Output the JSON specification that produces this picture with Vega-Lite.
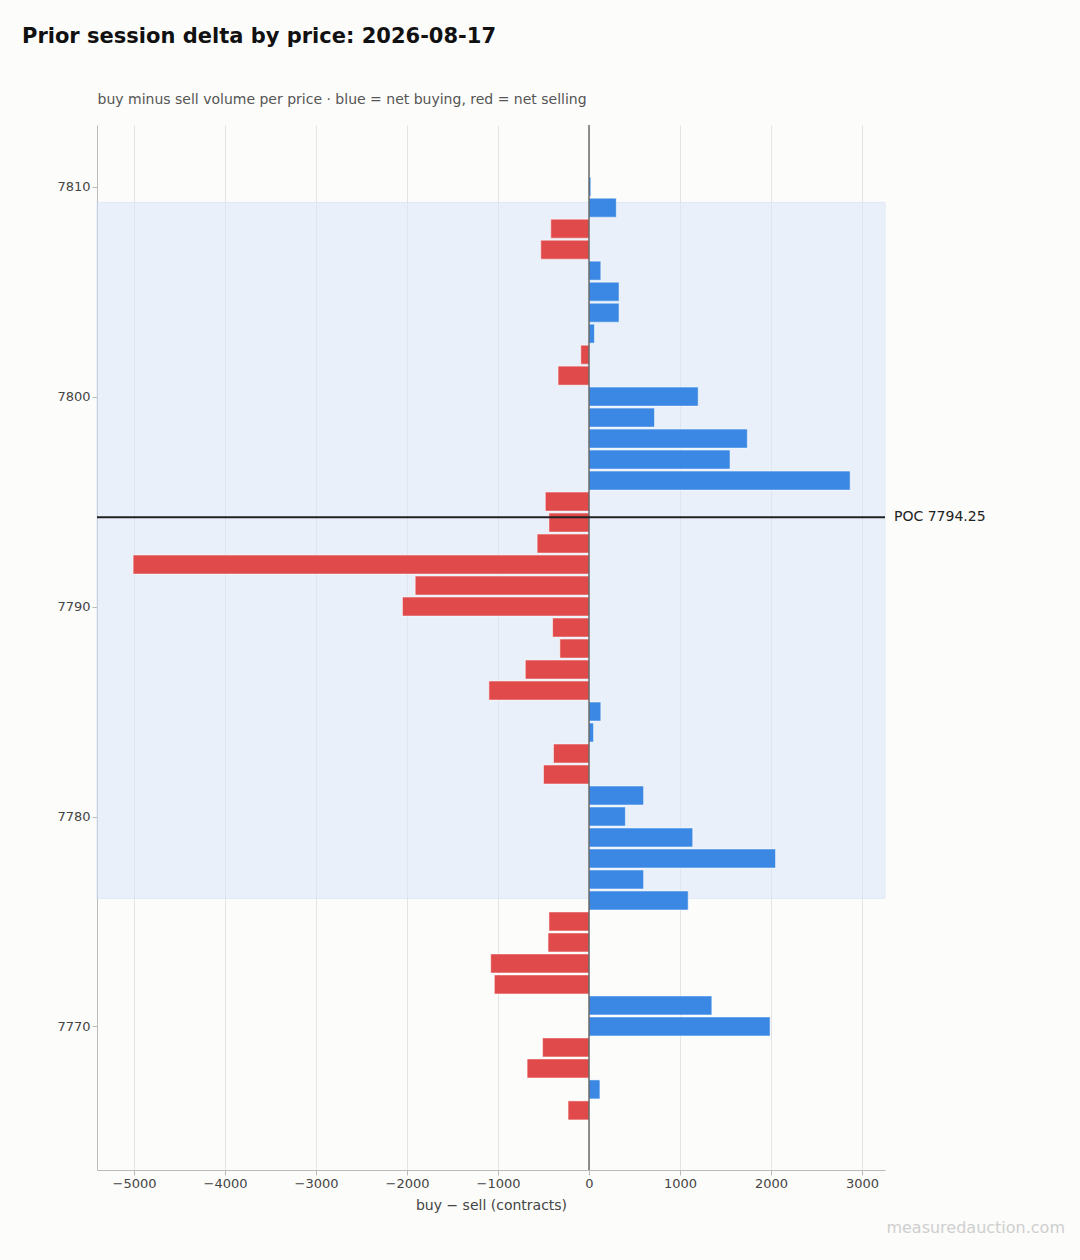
{
"$schema":"https://vega.github.io/schema/vega-lite/v6.json",
"width":788,"height":1045,
"autosize":{"type":"none"},
"padding":{"left":97,"top":125,"right":195,"bottom":90},
"background":"#fcfcfa",
"config":{"view":{"stroke":null},"font":"DejaVu Sans",
 "axis":{"labelFont":"DejaVu Sans","titleFont":"DejaVu Sans","labelFontSize":13,"labelColor":"#444","titleColor":"#444","titleFontSize":14,"titleFontWeight":"normal","domainColor":"#bbb","tickColor":"#bbb","gridColor":"#e4e4e4"}},
"title":{"text":"Prior session delta by price: 2026-08-17","anchor":"start","frame":"group","dx":-75,"offset":45,"fontSize":21,"fontWeight":"bold","color":"#111","font":"DejaVu Sans"},
"datasets":{"bars":[
{"price":7810,"delta":20},{"price":7809,"delta":300},{"price":7808,"delta":-420},{"price":7807,"delta":-530},
{"price":7806,"delta":130},{"price":7805,"delta":330},{"price":7804,"delta":330},{"price":7803,"delta":60},
{"price":7802,"delta":-90},{"price":7801,"delta":-340},{"price":7800,"delta":1200},{"price":7799,"delta":720},
{"price":7798,"delta":1740},{"price":7797,"delta":1550},{"price":7796,"delta":2870},{"price":7795,"delta":-480},
{"price":7794,"delta":-440},{"price":7793,"delta":-570},{"price":7792,"delta":-5010},{"price":7791,"delta":-1910},
{"price":7790,"delta":-2050},{"price":7789,"delta":-400},{"price":7788,"delta":-320},{"price":7787,"delta":-700},
{"price":7786,"delta":-1100},{"price":7785,"delta":130},{"price":7784,"delta":50},{"price":7783,"delta":-390},
{"price":7782,"delta":-500},{"price":7781,"delta":600},{"price":7780,"delta":400},{"price":7779,"delta":1140},
{"price":7778,"delta":2050},{"price":7777,"delta":600},{"price":7776,"delta":1090},{"price":7775,"delta":-440},
{"price":7774,"delta":-450},{"price":7773,"delta":-1080},{"price":7772,"delta":-1040},{"price":7771,"delta":1350},
{"price":7770,"delta":1990},{"price":7769,"delta":-510},{"price":7768,"delta":-680},{"price":7767,"delta":120},
{"price":7766,"delta":-230}]},
"layer":[
{"data":{"values":[{"lo":7776.1,"hi":7809.25}]},"mark":{"type":"rect","fill":"#dce8fb","opacity":0.55,"stroke":"#c9daf5","strokeWidth":1},
 "encoding":{"y":{"field":"lo","type":"quantitative","scale":{"domain":[7763.4,7812.7],"nice":false,"zero":false}},"y2":{"field":"hi"}}},
{"data":{"name":"bars"},"mark":{"type":"bar","orient":"horizontal","size":19,"stroke":"#ffffff","strokeWidth":0.5},
 "encoding":{
  "x":{"field":"delta","type":"quantitative","scale":{"domain":[-5407,3253],"nice":false},"axis":{"values":[-5000,-4000,-3000,-2000,-1000,0,1000,2000,3000],"format":"d","title":"buy − sell (contracts)","grid":true,"titlePadding":8}},
  "y":{"field":"price","type":"quantitative","scale":{"domain":[7763.4,7812.7],"nice":false,"zero":false},"axis":{"values":[7770,7780,7790,7800,7810],"grid":false,"format":"d","title":"buy minus sell volume per price · blue = net buying, red = net selling","titleAngle":0,"titleAlign":"left","titleX":0,"titleY":-26,"titleBaseline":"middle","titleFontSize":14,"titleColor":"#555"}},
  "color":{"condition":{"test":"datum.delta>=0","value":"#3a88e3"},"value":"#e04a4a"}}},
{"data":{"values":[{"z":0}]},"mark":{"type":"rule","color":"#555","strokeWidth":1.3},"encoding":{"x":{"field":"z","type":"quantitative"}}},
{"data":{"values":[{"poc":7794.25,"xr":3253,"label":"POC 7794.25"}]},"layer":[
 {"mark":{"type":"rule","color":"#222","strokeWidth":2},"encoding":{"y":{"field":"poc","type":"quantitative"}}},
 {"mark":{"type":"text","align":"left","dx":9,"fontSize":14,"color":"#222","clip":false},"encoding":{"y":{"field":"poc","type":"quantitative"},"x":{"field":"xr","type":"quantitative"},"text":{"field":"label"}}}]},
{"data":{"values":[{"wx":5231,"wy":7760.4,"t":"measuredauction.com"}]},"mark":{"type":"text","align":"right","fontSize":16,"color":"#cfcfcf","clip":false},
 "encoding":{"x":{"field":"wx","type":"quantitative"},"y":{"field":"wy","type":"quantitative"},"text":{"field":"t"}}}
]}
